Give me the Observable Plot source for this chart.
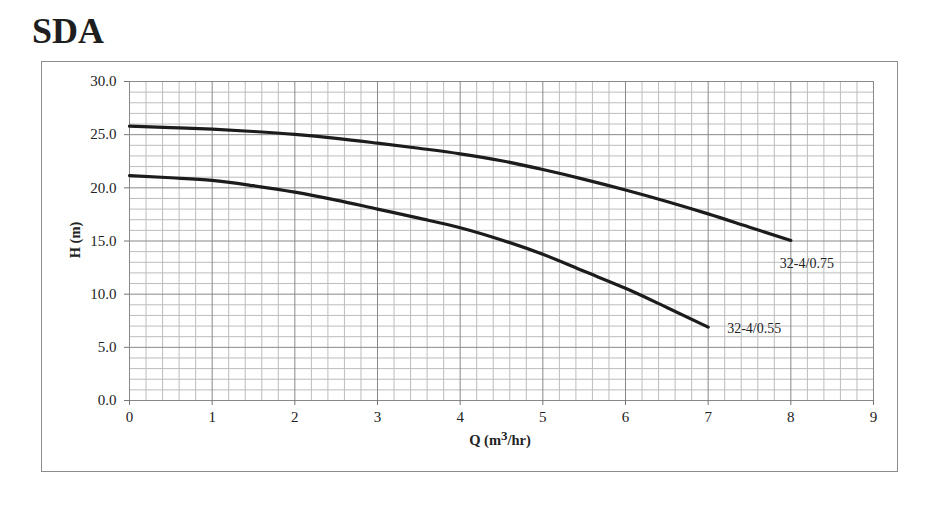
<!DOCTYPE html>
<html>
<head>
<meta charset="utf-8">
<script src="https://cdn.jsdelivr.net/npm/d3@7"></script>
<script src="https://cdn.jsdelivr.net/npm/@observablehq/plot@0.6"></script>
<style>
  html, body { margin: 0; padding: 0; background: #fff; }
  #wrap { position: relative; width: 942px; height: 508px; font-family: "Liberation Serif", "DejaVu Serif", serif; color: #222; }
  #box { position: absolute; left: 41px; top: 61px; width: 857px; height: 411px; border: 1px solid #8c8c8c; box-sizing: border-box; }
  #title { position: absolute; left: 32px; top: 13px; font-size: 36px; line-height: 36px; font-weight: bold; color: #1e1e1e; }
  #chart { position: absolute; left: 0; top: 0; }
  #xlabel { position: absolute; left: 400px; width: 200px; top: 432px; text-align: center; font-size: 14.5px; font-weight: bold; }
  #xlabel sup { font-size: 13px; line-height: 0; vertical-align: 5px; }
  #ylabel { position: absolute; left: 75px; top: 240px; transform: translate(-50%, -50%) rotate(-90deg); font-size: 14.5px; font-weight: bold; white-space: nowrap; }
</style>
</head>
<body>
<div id="wrap">
  <div id="box"></div>
  <div id="title">SDA</div>
  <div id="chart"></div>
  <div id="xlabel">Q (m<sup>3</sup>/hr)</div>
  <div id="ylabel">H (m)</div>
</div>
<script>
// Data
const seriesNames = ["32-4/0.75", "32-4/0.55"];
const qHigh = [0, 0.5, 1, 1.5, 2, 2.5, 3, 3.5, 4, 4.5, 5, 5.5, 6, 6.5, 7, 7.5, 8];
const hHigh = [25.8, 25.67, 25.52, 25.3, 25.02, 24.65, 24.2, 23.72, 23.2, 22.55, 21.72, 20.8, 19.8, 18.72, 17.55, 16.3, 15.05];
const qLow = [0, 0.5, 1, 1.5, 2, 2.5, 3, 3.5, 4, 4.5, 5, 5.5, 6, 6.5, 7];
const hLow = [21.15, 20.95, 20.7, 20.2, 19.6, 18.85, 18.0, 17.15, 16.25, 15.1, 13.75, 12.15, 10.55, 8.75, 6.9];
const xTicks = [0, 1, 2, 3, 4, 5, 6, 7, 8, 9];
const yTicks = [0, 5, 10, 15, 20, 25, 30];

const rows = [
  ...qHigh.map((q, i) => ({q, h: hHigh[i], s: seriesNames[0]})),
  ...qLow.map((q, i) => ({q, h: hLow[i], s: seriesNames[1]}))
];
const endHigh = [{q: qHigh[qHigh.length - 1], h: hHigh[hHigh.length - 1], s: seriesNames[0]}];
const endLow = [{q: qLow[qLow.length - 1], h: hLow[hLow.length - 1], s: seriesNames[1]}];

const minorX = d3.range(0, 46).filter(i => i % 5 !== 0).map(i => i / 5);
const minorY = d3.range(0, 31).filter(v => v % 5 !== 0);

const chart = Plot.plot({
  width: 942,
  height: 508,
  marginLeft: 129,
  marginRight: 69,
  marginTop: 81,
  marginBottom: 108,
  style: {fontFamily: "Liberation Serif, DejaVu Serif, serif", fontSize: "15px", color: "#222", background: "transparent"},
  x: {domain: [0, 9]},
  y: {domain: [0, 30]},
  marks: [
    Plot.gridX(minorX, {stroke: "#bcbcbc", strokeOpacity: 1, strokeWidth: 1}),
    Plot.gridY(minorY, {stroke: "#bcbcbc", strokeOpacity: 1, strokeWidth: 1}),
    Plot.gridX(xTicks, {stroke: "#888", strokeOpacity: 1, strokeWidth: 1}),
    Plot.gridY(yTicks, {stroke: "#888", strokeOpacity: 1, strokeWidth: 1}),
    Plot.axisX({ticks: xTicks, tickSize: 5, tickPadding: 6, label: null, stroke: "#777"}),
    Plot.axisY({ticks: yTicks, tickFormat: d => d.toFixed(1), tickSize: 5, tickPadding: 8, label: null, stroke: "#777"}),
    Plot.line(rows, {x: "q", y: "h", z: "s", stroke: "#1c1c1c", strokeWidth: 3.2, curve: "monotone-x"}),
    Plot.text(endHigh, {x: "q", y: "h", text: "s", textAnchor: "start", dx: -11, dy: 23, fontSize: 14, fill: "#222"}),
    Plot.text(endLow, {x: "q", y: "h", text: "s", textAnchor: "start", dx: 19, dy: 1, fontSize: 14, fill: "#222"})
  ]
});
document.getElementById("chart").appendChild(chart);
</script>
</body>
</html>
